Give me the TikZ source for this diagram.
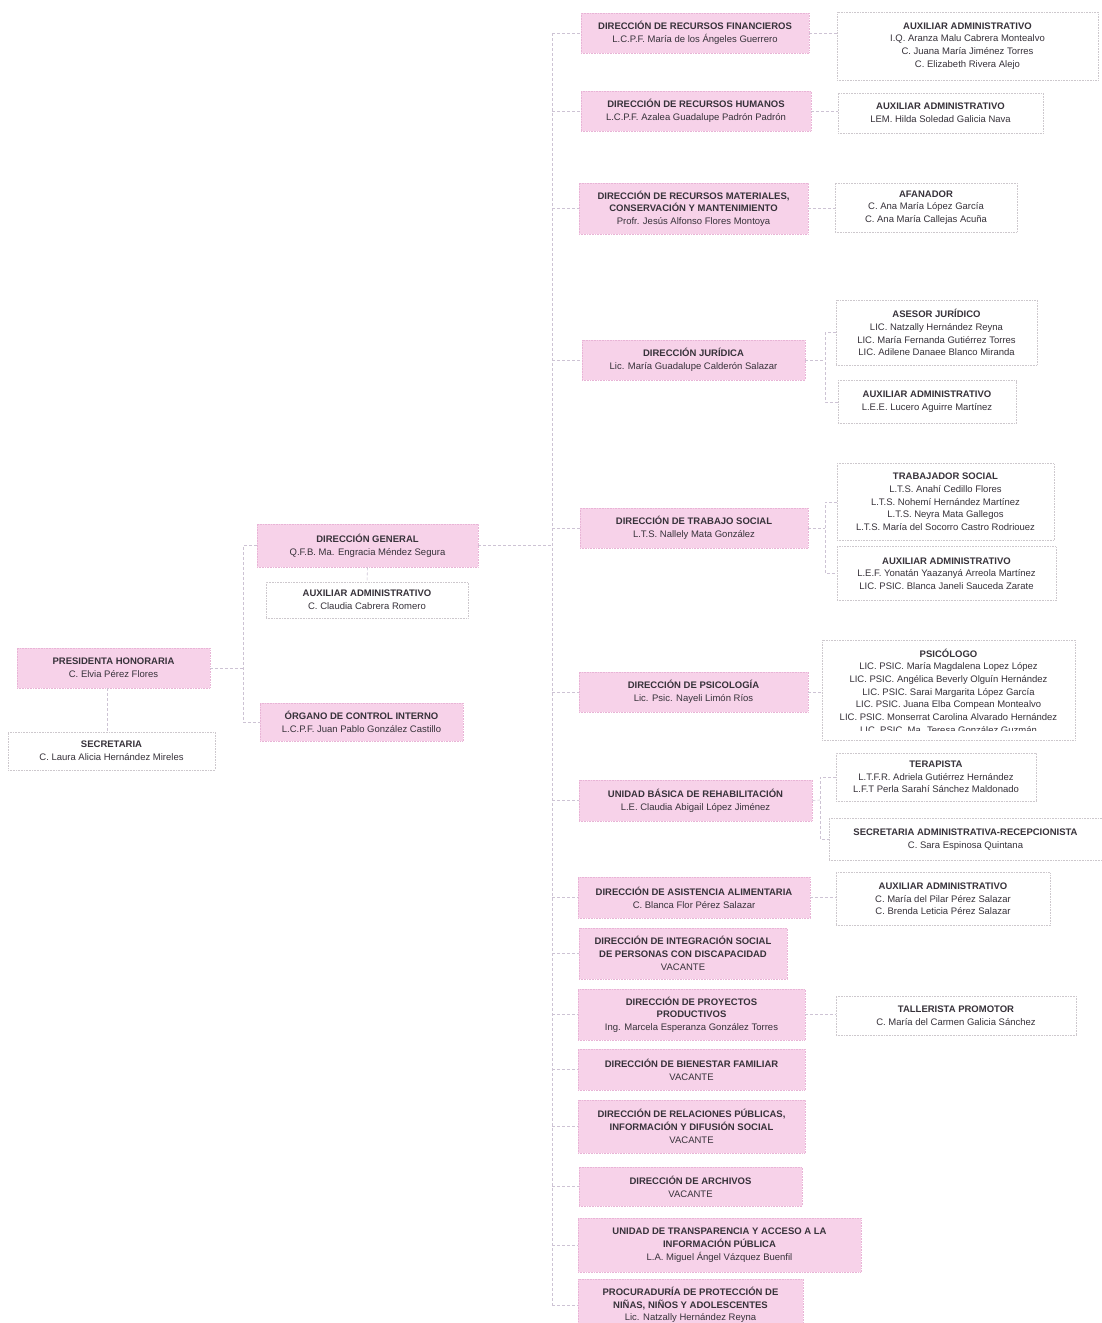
\documentclass[tikz,border=0pt]{standalone}
\usepackage{fontspec}
\setmainfont{Liberation Sans}
\definecolor{pinkfill}{RGB}{247,210,233}
\definecolor{pinkedge}{RGB}{232,180,214}
\definecolor{greyedge}{RGB}{205,200,205}
\definecolor{linec}{RGB}{205,195,212}
\definecolor{txtdark}{RGB}{55,50,58}
\newcommand{\boxhd}[1]{\textbf{#1}}
\tikzset{
  base/.style={inner sep=0pt, align=center, font=\fontsize{9.5}{12.7}\selectfont, text=txtdark},
  pinkbox/.style={base, fill=pinkfill, draw=pinkedge, densely dotted, line width=0.6pt},
  whitebox/.style={base, draw=greyedge, densely dotted, line width=0.6pt},
  txtonly/.style={base},
  conn/.style={draw=linec, dash pattern=on 3pt off 2pt, line width=0.6pt},
}
\begin{document}
\begin{tikzpicture}[x=1pt,y=-1pt]
\useasboundingbox[fill=white] (0,0) rectangle (1102,1323);

% ---------- left part ----------
\node[pinkbox, minimum width=193pt, minimum height=40pt] (pres) at (113.5,668) {\boxhd{PRESIDENTA HONORARIA}\\C. Elvia Pérez Flores};
\node[whitebox, minimum width=207pt, minimum height=38pt] (sec) at (111.5,751) {\boxhd{SECRETARIA}\\C. Laura Alicia Hernández Mireles};
\node[pinkbox, minimum width=221pt, minimum height=43pt] (dg) at (367.5,545.5) {\boxhd{DIRECCIÓN GENERAL}\\Q.F.B. Ma. Engracia Méndez Segura};
\node[whitebox, minimum width=202pt, minimum height=36pt] (auxdg) at (367,600) {\boxhd{AUXILIAR ADMINISTRATIVO}\\C. Claudia Cabrera Romero};
\node[pinkbox, minimum width=203pt, minimum height=38pt] (org) at (361.5,722) {\boxhd{ÓRGANO DE CONTROL INTERNO}\\L.C.P.F. Juan Pablo González Castillo};

% ---------- direcciones ----------
\node[pinkbox, minimum width=228pt, minimum height=40pt] (fin) at (695,33) {\boxhd{DIRECCIÓN DE RECURSOS FINANCIEROS}\\L.C.P.F. María de los Ángeles Guerrero};
\node[pinkbox, minimum width=230pt, minimum height=40pt] (rh) at (696,111) {\boxhd{DIRECCIÓN DE RECURSOS HUMANOS}\\L.C.P.F. Azalea Guadalupe Padrón Padrón};
\node[pinkbox, minimum width=229pt, minimum height=51pt] (rm) at (693.5,208.5) {\boxhd{DIRECCIÓN DE RECURSOS MATERIALES,}\\\boxhd{CONSERVACIÓN Y MANTENIMIENTO}\\Profr. Jesús Alfonso Flores Montoya};
\node[pinkbox, minimum width=223pt, minimum height=40pt] (jur) at (693.5,360) {\boxhd{DIRECCIÓN JURÍDICA}\\Lic. María Guadalupe Calderón Salazar};
\node[pinkbox, minimum width=228pt, minimum height=40pt] (ts) at (694,528) {\boxhd{DIRECCIÓN DE TRABAJO SOCIAL}\\L.T.S. Nallely Mata González};
\node[pinkbox, minimum width=229pt, minimum height=40pt] (psic) at (693.5,692) {\boxhd{DIRECCIÓN DE PSICOLOGÍA}\\Lic. Psic. Nayeli Limón Ríos};
\node[pinkbox, minimum width=233pt, minimum height=41pt] (ubr) at (695.5,800.5) {\boxhd{UNIDAD BÁSICA DE REHABILITACIÓN}\\L.E. Claudia Abigail López Jiménez};
\node[pinkbox, minimum width=232pt, minimum height=41pt] (asis) at (694,897.5) {\boxhd{DIRECCIÓN DE ASISTENCIA ALIMENTARIA}\\C. Blanca Flor Pérez Salazar};
\node[pinkbox, minimum width=208pt, minimum height=51pt] (integ) at (683,953.5) {\boxhd{DIRECCIÓN DE INTEGRACIÓN SOCIAL}\\\boxhd{DE PERSONAS CON DISCAPACIDAD}\\VACANTE};
\node[pinkbox, minimum width=227pt, minimum height=51pt] (proy) at (691.5,1014.5) {\boxhd{DIRECCIÓN DE PROYECTOS}\\\boxhd{PRODUCTIVOS}\\Ing. Marcela Esperanza González Torres};
\node[pinkbox, minimum width=227pt, minimum height=41pt] (bien) at (691.5,1069.5) {\boxhd{DIRECCIÓN DE BIENESTAR FAMILIAR}\\VACANTE};
\node[pinkbox, minimum width=227pt, minimum height=53pt] (rp) at (691.5,1126.5) {\boxhd{DIRECCIÓN DE RELACIONES PÚBLICAS,}\\\boxhd{INFORMACIÓN Y DIFUSIÓN SOCIAL}\\VACANTE};
\node[pinkbox, minimum width=223pt, minimum height=39pt] (arch) at (690.5,1186.5) {\boxhd{DIRECCIÓN DE ARCHIVOS}\\VACANTE};
\node[pinkbox, minimum width=283pt, minimum height=54pt] (ut) at (719.5,1245) {\boxhd{UNIDAD DE TRANSPARENCIA Y ACCESO A LA}\\\boxhd{INFORMACIÓN PÚBLICA}\\L.A. Miguel Ángel Vázquez Buenfil};
\node[pinkbox, minimum width=225pt, minimum height=52pt] (proc) at (690.5,1305) {\boxhd{PROCURADURÍA DE PROTECCIÓN DE}\\\boxhd{NIÑAS, NIÑOS Y ADOLESCENTES}\\Lic. Natzally Hernández Reyna};

% ---------- personal ----------
\node[whitebox, minimum width=261pt, minimum height=68pt] (auxfin) at (967.5,46) {\boxhd{AUXILIAR ADMINISTRATIVO}\\I.Q. Aranza Malu Cabrera Montealvo\\C. Juana María Jiménez Torres\\C. Elizabeth Rivera Alejo};
\node[whitebox, minimum width=205pt, minimum height=40pt] (auxrh) at (940.5,113) {\boxhd{AUXILIAR ADMINISTRATIVO}\\LEM. Hilda Soledad Galicia Nava};
\node[whitebox, minimum width=182pt, minimum height=49pt] (afan) at (926,207.5) {\boxhd{AFANADOR}\\C. Ana María López García\\C. Ana María Callejas Acuña};
\node[whitebox, minimum width=201pt, minimum height=65pt] (ases) at (936.5,332.5) {\boxhd{ASESOR JURÍDICO}\\LIC. Natzally Hernández Reyna\\LIC. María Fernanda Gutiérrez Torres\\LIC. Adilene Danaee Blanco Miranda};
\node[whitebox, minimum width=178pt, minimum height=43pt] (auxjur) at (927,402) {\boxhd{AUXILIAR ADMINISTRATIVO}\\L.E.E. Lucero Aguirre Martínez};
\node[whitebox, minimum width=217pt, minimum height=77pt] (trab) at (945.5,502) {\boxhd{TRABAJADOR SOCIAL}\\L.T.S. Anahí Cedillo Flores\\L.T.S. Nohemí Hernández Martínez\\L.T.S. Neyra Mata Gallegos\\L.T.S. María del Socorro Castro Rodriouez};
\node[whitebox, minimum width=219pt, minimum height=54pt] (auxts) at (946.5,573.5) {\boxhd{AUXILIAR ADMINISTRATIVO}\\L.E.F. Yonatán Yaazanyá Arreola Martínez\\LIC. PSIC. Blanca Janeli Sauceda Zarate};
\node[whitebox, minimum width=253pt, minimum height=100pt] (psi) at (948.5,690) {};
\begin{scope}
  \clip ([yshift=10pt]psi.south west) rectangle (psi.north east);
  \node[txtonly] (psitxt) at (948.5,691) {\boxhd{PSICÓLOGO}\\LIC. PSIC. María Magdalena Lopez López\\LIC. PSIC. Angélica Beverly Olguín Hernández\\LIC. PSIC. Sarai Margarita López García\\LIC. PSIC. Juana Elba Compean Montealvo\\LIC. PSIC. Monserrat Carolina Alvarado Hernández\\LIC. PSIC. Ma. Teresa González Guzmán};
\end{scope}
\node[whitebox, minimum width=200pt, minimum height=48pt] (ter) at (936,777) {\boxhd{TERAPISTA}\\L.T.F.R. Adriela Gutiérrez Hernández\\L.F.T Perla Sarahí Sánchez Maldonado};
\node[whitebox, minimum width=273pt, minimum height=42pt] (secad) at (965.5,839.5) {\boxhd{SECRETARIA ADMINISTRATIVA-RECEPCIONISTA}\\C. Sara Espinosa Quintana};
\node[whitebox, minimum width=214pt, minimum height=53pt] (auxas) at (943,899) {\boxhd{AUXILIAR ADMINISTRATIVO}\\C. María del Pilar Pérez Salazar\\C. Brenda Leticia Pérez Salazar};
\node[whitebox, minimum width=240pt, minimum height=39pt] (tall) at (956,1015.5) {\boxhd{TALLERISTA PROMOTOR}\\C. María del Carmen Galicia Sánchez};

% ---------- connectors ----------
\coordinate (lj) at (243,668);
\coordinate (spine) at (552,545);
\coordinate (jj) at (825,360);
\coordinate (tj) at (825,528);
\coordinate (uj) at (820,800);

\draw[conn] (pres.south -| 107,0) -- (sec.north -| 107,0);
\draw[conn] (pres.east) -- (pres.east -| lj);
\draw[conn] (dg.west) -- (dg.west -| lj) -- (org.west -| lj) -- (org.west);
\draw[conn] (dg.south) -- (auxdg.north);
\draw[conn] (dg.east) -- (dg.east -| spine);
\draw[conn] (fin.west -| spine) -- (proc.west -| spine);
\foreach \n in {fin,rh,rm,jur,ts,psic,ubr,asis,integ,proy,bien,rp,arch,ut,proc}
  \draw[conn] (\n.west -| spine) -- (\n.west);

\draw[conn] (fin.east) -- (fin.east -| auxfin.west);
\draw[conn] (rh.east) -- (rh.east -| auxrh.west);
\draw[conn] (rm.east) -- (rm.east -| afan.west);
\draw[conn] (jur.east) -- (jj);
\draw[conn] (ases.west) -- (ases.west -| jj) -- (auxjur.west -| jj) -- (auxjur.west);
\draw[conn] (ts.east) -- (tj);
\draw[conn] (trab.west) -- (trab.west -| tj) -- (auxts.west -| tj) -- (auxts.west);
\draw[conn] (psic.east) -- (psic.east -| psi.west);
\draw[conn] (ubr.east) -- (uj);
\draw[conn] (ter.west) -- (ter.west -| uj) -- (secad.west -| uj) -- (secad.west);
\draw[conn] (asis.east) -- (asis.east -| auxas.west);
\draw[conn] (proy.east) -- (proy.east -| tall.west);
\end{tikzpicture}
\end{document}
